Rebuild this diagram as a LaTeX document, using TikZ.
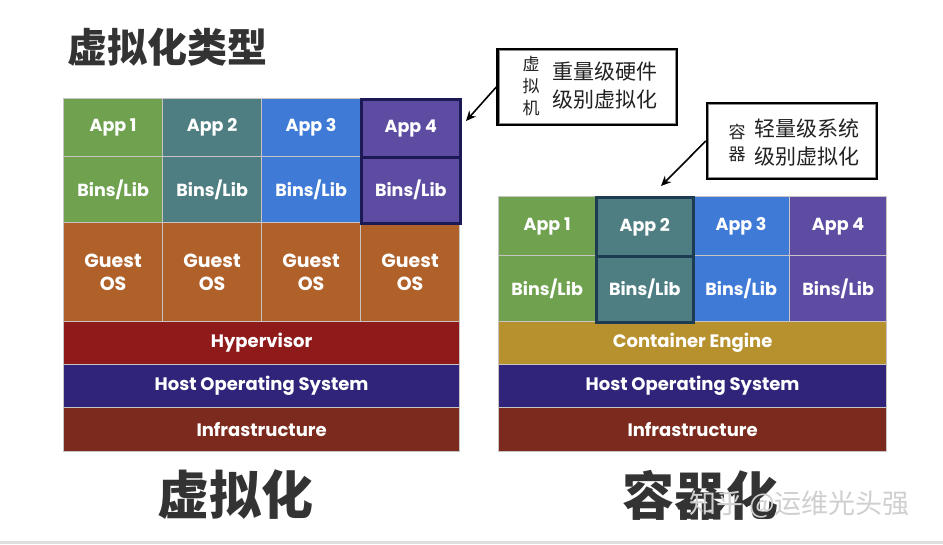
\documentclass[tikz,border=0pt]{standalone}
\usepackage{fontspec}
\newfontfamily\cjk{Noto Sans CJK SC}
\newfontfamily\cellfont{Poppins}
\usetikzlibrary{arrows.meta}
\definecolor{cgreen}{HTML}{6FA14F}
\definecolor{cteal}{HTML}{4F7E82}
\definecolor{cblue}{HTML}{3E7AD6}
\definecolor{cpurple}{HTML}{5E4BA2}
\definecolor{corange}{HTML}{B0612A}
\definecolor{chyper}{HTML}{8E1A1A}
\definecolor{chost}{HTML}{2F2479}
\definecolor{cinfra}{HTML}{7B2A1D}
\definecolor{cengine}{HTML}{B8912F}
\definecolor{cgrid}{HTML}{C9C4C4}
\definecolor{chl}{HTML}{1C1A55}
\definecolor{chltwo}{HTML}{1D3C52}
\definecolor{ctitle}{HTML}{333333}
\definecolor{ctext}{HTML}{222222}
\definecolor{cwm}{HTML}{CFCFCF}
\tikzset{
  cell/.style={draw=cgrid, line width=1.2pt, anchor=north west, inner sep=0pt,
    text=white, align=center, font=\cellfont\bfseries\fontsize{17.5}{23}\selectfont},
  guest/.style={font=\cellfont\bfseries\fontsize{19}{23}\selectfont},
  bar/.style={font=\cellfont\bfseries\fontsize{18}{23}\selectfont},
  hl/.style={draw=chl, line width=2.6pt},
  hltwo/.style={draw=chltwo, line width=2.6pt},
  callout/.style={draw=black, line width=2.4pt, fill=white, inner sep=0pt},
  cltext/.style={text=ctext, font=\cjk\fontsize{21}{26}\selectfont, inner sep=0pt},
  clsmall/.style={text=ctext, font=\cjk\fontsize{17}{22}\selectfont, inner sep=0pt, align=center},
  pointer/.style={draw=black, line width=1.6pt, -{Stealth[length=10pt,width=9pt]}},
  bigcjk/.style={text=ctitle, font=\cjk\bfseries\fontsize{52}{60}\selectfont, inner sep=0pt},
}
\begin{document}
\begin{tikzpicture}[x=1pt,y=-1pt]
\useasboundingbox (0,0) rectangle (943,544);
\fill[white] (0,0) rectangle (943,544);
\fill[black!13] (0,541) rectangle (943,544);

% title
\node[anchor=west, inner sep=0pt, text=ctitle, font=\cjk\bfseries\fontsize{40}{46}\selectfont] (title) at (67,47) {虚拟化类型};

% ---------- left stack (virtualization) ----------
\node[cell, fill=cgreen,  minimum width=99pt, minimum height=58pt] (la1) at (63,98) {App 1};
\node[cell, fill=cteal,   minimum width=99pt, minimum height=58pt] (la2) at (162,98) {App 2};
\node[cell, fill=cblue,   minimum width=99pt, minimum height=58pt] (la3) at (261,98) {App 3};
\node[cell, fill=cgreen,  minimum width=99pt, minimum height=66pt] (lb1) at (63,156) {Bins/Lib};
\node[cell, fill=cteal,   minimum width=99pt, minimum height=66pt] (lb2) at (162,156) {Bins/Lib};
\node[cell, fill=cblue,   minimum width=99pt, minimum height=66pt] (lb3) at (261,156) {Bins/Lib};
\node[cell, guest, fill=corange, minimum width=99pt, minimum height=99pt] (lg1) at (63,222) {Guest\\OS};
\node[cell, guest, fill=corange, minimum width=99pt, minimum height=99pt] (lg2) at (162,222) {Guest\\OS};
\node[cell, guest, fill=corange, minimum width=99pt, minimum height=99pt] (lg3) at (261,222) {Guest\\OS};
\node[cell, guest, fill=corange, minimum width=99pt, minimum height=99pt] (lg4) at (360,222) {Guest\\OS};
\node[cell, bar, fill=chyper,  minimum width=396pt, minimum height=43pt] (lhyp) at (63,321) {Hypervisor};
\node[cell, bar, fill=chost,   minimum width=396pt, minimum height=43pt] (lhost) at (63,364) {Host Operating System};
\node[cell, bar, fill=cinfra,  minimum width=396pt, minimum height=44pt] (linf) at (63,407) {Infrastructure};
\node[cell, hl, fill=cpurple, minimum width=99pt, minimum height=58pt] (la4) at (360,98) {App 4};
\node[cell, hl, fill=cpurple, minimum width=99pt, minimum height=66pt] (lb4) at (360,156) {Bins/Lib};

% ---------- right stack (containers) ----------
\node[cell, fill=cgreen,  minimum width=97pt, minimum height=59pt] (ra1) at (498,196) {App 1};
\node[cell, fill=cblue,   minimum width=97pt, minimum height=59pt] (ra3) at (692,196) {App 3};
\node[cell, fill=cpurple, minimum width=97pt, minimum height=59pt] (ra4) at (789,196) {App 4};
\node[cell, fill=cgreen,  minimum width=97pt, minimum height=66pt] (rb1) at (498,255) {Bins/Lib};
\node[cell, fill=cblue,   minimum width=97pt, minimum height=66pt] (rb3) at (692,255) {Bins/Lib};
\node[cell, fill=cpurple, minimum width=97pt, minimum height=66pt] (rb4) at (789,255) {Bins/Lib};
\node[cell, bar, fill=cengine, minimum width=388pt, minimum height=43pt] (reng) at (498,321) {Container Engine};
\node[cell, bar, fill=chost,   minimum width=388pt, minimum height=43pt] (rhost) at (498,364) {Host Operating System};
\node[cell, bar, fill=cinfra,  minimum width=388pt, minimum height=44pt] (rinf) at (498,407) {Infrastructure};
\node[cell, hltwo, fill=cteal, minimum width=97pt, minimum height=59pt] (ra2) at (595,196) {App 2};
\node[cell, hltwo, fill=cteal, minimum width=97pt, minimum height=66pt] (rb2) at (595,255) {Bins/Lib};

% ---------- callouts ----------
\node[callout, minimum width=179pt, minimum height=76pt] (c1) at (587,87) {};
\draw[black!45, line width=0.8pt] ([shift={(2.6,2.6)}]c1.north west) rectangle ([shift={(-2.6,-2.6)}]c1.south east);
\node[clsmall] (c1v) at (531,86) {虚\\拟\\机};
\node[cltext, anchor=west] (c1a) at (552,72) {重量级硬件};
\node[cltext, anchor=west] (c1b) at (552,100) {级别虚拟化};
\coordinate (t1) at (466,121);
\draw[pointer] (c1.west) -- (t1);

\node[callout, minimum width=170pt, minimum height=76pt] (c2) at (792,141) {};
\draw[black!45, line width=0.8pt] ([shift={(2.6,2.6)}]c2.north west) rectangle ([shift={(-2.6,-2.6)}]c2.south east);
\node[clsmall] (c2v) at (737,143) {容\\器};
\node[cltext, anchor=west] (c2a) at (754,128) {轻量级系统};
\node[cltext, anchor=west] (c2b) at (754,157) {级别虚拟化};
\coordinate (t2) at (661,186);
\draw[pointer] (c2.west) -- (t2);

% ---------- bottom labels ----------
\node[bigcjk] (lv) at (235,495) {虚拟化};
\node[bigcjk] (lc) at (700,495) {容器化};

% watermark
\node[anchor=west, inner sep=0pt, text=cwm, font=\cjk\fontsize{27}{32}\selectfont] (wm) at (689,504) {知乎 @运维光头强};
\end{tikzpicture}
\end{document}
